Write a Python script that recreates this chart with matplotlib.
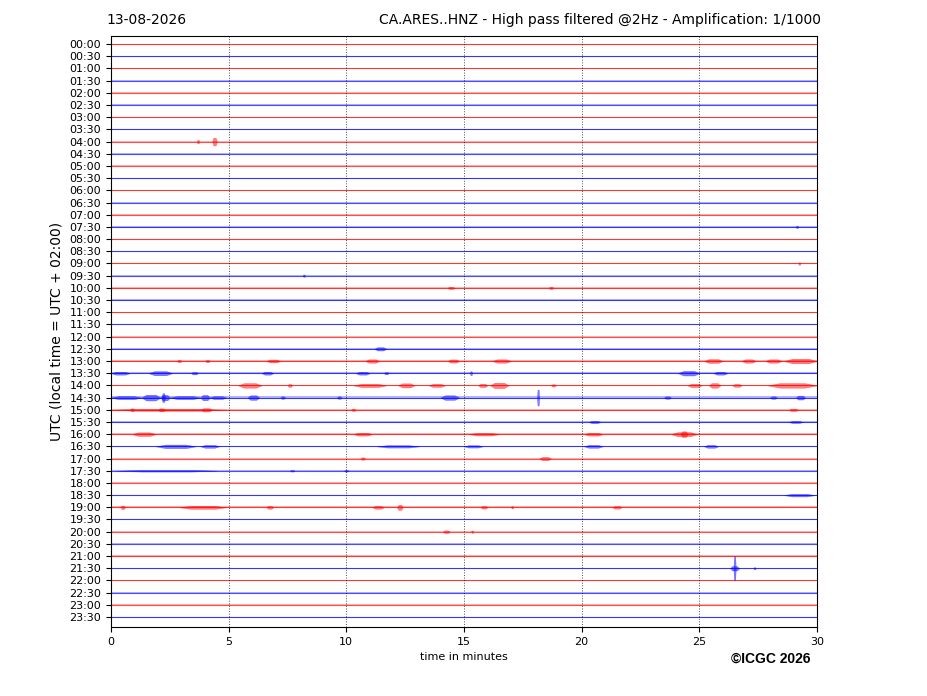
import matplotlib
matplotlib.use("Agg")
import matplotlib.pyplot as plt
import numpy as np

date_label = "13-08-2026"
station_title = "CA.ARES..HNZ - High pass filtered @2Hz - Amplification: 1/1000"

# one trace every 30 minutes, 48 rows
row_labels = ["%02d:%02d" % (h, m) for h in range(24) for m in (0, 30)]
row_colors = ["red", "blue"] * 24

# background noise half-width of each row (trace units, 1 unit = row spacing)
base_amp = [0.04, 0.04, 0.05, 0.06, 0.04, 0.04, 0.04, 0.04,
            0.07, 0.06, 0.04, 0.04, 0.04, 0.04, 0.06, 0.06,
            0.04, 0.04, 0.04, 0.05, 0.06, 0.06, 0.04, 0.04,
            0.05, 0.06, 0.07, 0.07, 0.07, 0.09, 0.07, 0.06,
            0.07, 0.06, 0.06, 0.05, 0.04, 0.05, 0.07, 0.05,
            0.05, 0.04, 0.05, 0.06, 0.04, 0.04, 0.04, 0.04]

# bursts per row: (start min, end min, half-amplitude)
bursts = {
    "04:00": [(3.65, 3.75, 0.15), (4.3, 4.5, 0.32)],
    "07:30": [(29.1, 29.2, 0.1)],
    "09:00": [(29.2, 29.3, 0.1)],
    "09:30": [(8.15, 8.25, 0.1)],
    "10:00": [(14.3, 14.6, 0.1), (18.6, 18.8, 0.1)],
    "12:30": [(11.2, 11.7, 0.14)],
    "13:00": [(2.8, 3.0, 0.1), (4.0, 4.2, 0.1), (6.6, 7.2, 0.12),
              (10.8, 11.4, 0.14), (14.3, 14.8, 0.13), (16.2, 17.0, 0.14),
              (25.2, 26.0, 0.16), (26.8, 27.4, 0.14), (27.8, 28.5, 0.14),
              (28.6, 30.0, 0.19)],
    "13:30": [(0.0, 0.8, 0.12), (1.6, 2.6, 0.17), (3.4, 3.7, 0.1),
              (6.4, 6.9, 0.12), (10.4, 11.0, 0.12), (11.6, 11.8, 0.09),
              (15.25, 15.35, 0.16), (24.1, 25.0, 0.19), (25.6, 26.2, 0.12)],
    "14:00": [(5.4, 6.4, 0.19), (7.5, 7.7, 0.12), (10.3, 11.7, 0.14),
              (12.2, 12.9, 0.17), (13.5, 14.2, 0.13), (15.6, 16.0, 0.14),
              (16.1, 16.9, 0.22), (18.7, 18.9, 0.1), (24.5, 25.1, 0.14),
              (25.4, 25.9, 0.19), (26.4, 26.8, 0.12), (27.9, 30.0, 0.19)],
    "14:30": [(0.0, 1.3, 0.13), (1.3, 2.1, 0.24), (2.1, 2.5, 0.22),
              (2.15, 2.3, 0.36), (2.5, 3.8, 0.13), (3.8, 4.2, 0.22),
              (4.2, 4.9, 0.12), (5.8, 6.3, 0.19), (7.2, 7.4, 0.1),
              (9.6, 9.8, 0.1), (14.0, 14.8, 0.19), (18.1, 18.2, 0.65),
              (23.5, 23.8, 0.1), (28.0, 28.3, 0.1), (29.1, 29.5, 0.16)],
    "15:00": [(0.0, 4.9, 0.09), (0.8, 1.0, 0.12), (2.0, 2.3, 0.12),
              (3.8, 4.3, 0.14), (10.2, 10.4, 0.1), (28.8, 29.2, 0.1)],
    "15:30": [(20.3, 20.8, 0.1), (28.8, 29.4, 0.09)],
    "16:00": [(0.9, 1.9, 0.15), (10.3, 11.1, 0.12), (15.2, 16.5, 0.11),
              (20.1, 20.9, 0.12), (23.8, 24.9, 0.17), (24.2, 24.5, 0.24)],
    "16:30": [(1.9, 3.6, 0.15), (3.8, 4.6, 0.12), (11.3, 13.1, 0.1),
              (15.0, 15.8, 0.1), (20.1, 20.9, 0.12), (25.2, 25.8, 0.12)],
    "17:00": [(10.6, 10.8, 0.1), (18.2, 18.7, 0.14)],
    "17:30": [(0.2, 4.5, 0.07), (7.6, 7.8, 0.07), (9.9, 10.1, 0.07)],
    "18:30": [(28.6, 29.9, 0.11)],
    "19:00": [(0.4, 0.6, 0.14), (2.9, 4.9, 0.13), (6.6, 6.9, 0.12),
              (11.1, 11.6, 0.12), (12.15, 12.4, 0.21), (15.7, 16.0, 0.11),
              (17.0, 17.1, 0.1), (21.3, 21.7, 0.11)],
    "20:00": [(14.1, 14.4, 0.11), (15.3, 15.4, 0.1)],
    "21:30": [(26.45, 26.55, 1.0), (26.3, 26.7, 0.18), (27.3, 27.4, 0.09)],
}

minutes = [0, 30]

fig = plt.figure(figsize=(9.27, 6.96), dpi=100)
ax = fig.add_axes([0.1197, 0.0991, 0.7616, 0.8492])

for i, (label, col, amp) in enumerate(zip(row_labels, row_colors, base_amp)):
    off = -i
    ax.fill_between(minutes, off - amp, off + amp, color=col, alpha=0.3,
                    linewidth=0)
    ax.plot(minutes, [off, off], color=col, linewidth=0.8, alpha=0.7)
    for t0, t1, a in bursts.get(label, []):
        ramp = 0.25 * (t1 - t0)
        xs = [t0, t0 + ramp, t1 - ramp, t1]
        ax.fill_between(xs, [off, off - a, off - a, off],
                        [off, off + a, off + a, off],
                        color=col, alpha=0.5, linewidth=0.3)

for xv in range(5, 30, 5):
    ax.axvline(xv, color="black", linestyle=":", linewidth=0.7, alpha=0.7)

ax.set_xlim(0, 30)
ax.set_ylim(-47.82, 0.66)
ax.set_xticks(range(0, 31, 5))
ax.set_yticks([-i for i in range(48)])
ax.set_yticklabels(row_labels)
ax.tick_params(axis="both", labelsize=8)
ax.set_xlabel("time in minutes", fontsize=8)
ax.set_ylabel("UTC (local time = UTC + 02:00)", fontsize=10)

fig.text(0.115, 0.971, date_label, fontsize=10, va="center", ha="left")
fig.text(0.886, 0.971, station_title, fontsize=10, va="center", ha="right")
fig.text(0.831, 0.053, "\u00a9ICGC 2026", fontsize=10, fontweight="bold",
         family="Liberation Sans", ha="center", va="center")

fig.savefig("out.png", dpi=100)
